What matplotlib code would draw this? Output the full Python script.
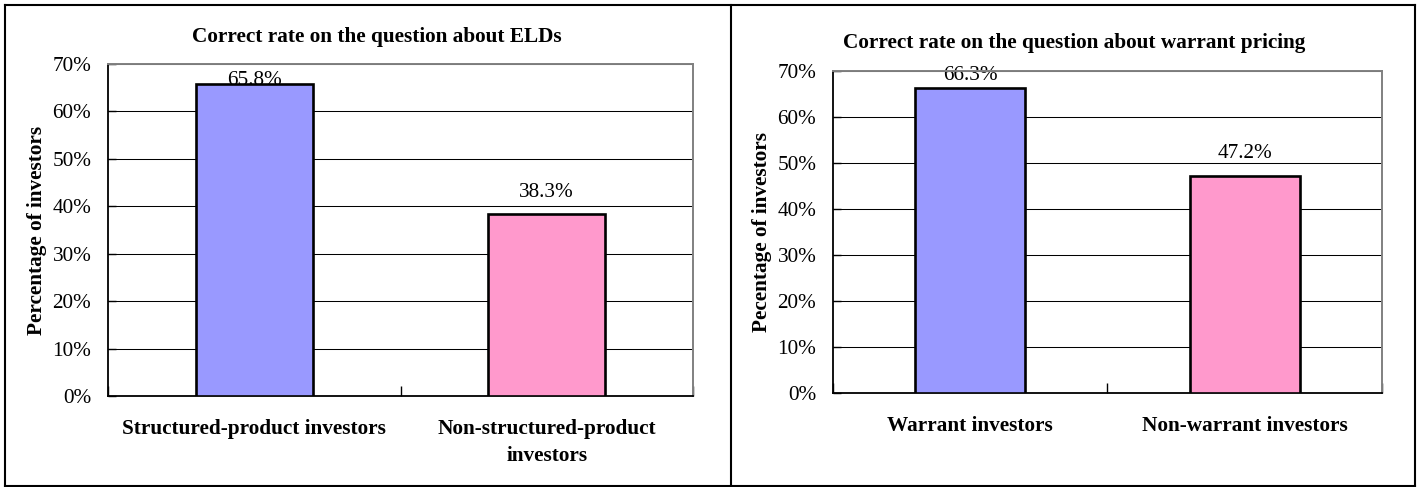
import matplotlib
matplotlib.use("Agg")
import matplotlib.pyplot as plt
from matplotlib.lines import Line2D
from matplotlib.ticker import FuncFormatter, FixedLocator

# ---- data ----
left_title = "Correct rate on the question about ELDs"
left_categories = ["Structured-product investors", "Non-structured-product\ninvestors"]
left_values = [65.8, 38.3]
left_ylabel = "Percentage of investors"

right_title = "Correct rate on the question about warrant pricing"
right_categories = ["Warrant investors", "Non-warrant investors"]
right_values = [66.3, 47.2]
right_ylabel = "Pecentage of investors"

bar_colors = ["#9999FF", "#FF99CC"]
y_ticks = [0, 10, 20, 30, 40, 50, 60, 70]

# ---- layout (pixels) ----
W, H, DPI = 1423, 487, 100
FONT = "Liberation Serif"
FS = 15.3

fig = plt.figure(figsize=(W / DPI, H / DPI), dpi=DPI)
fig.patch.set_facecolor("white")


def fx(px):
    return px / W


def fy(py):
    return 1 - py / H


def panel(x0, x1, top, bot, title, title_xy, cats, vals, ylabel, ylabel_x, cap_px):
    ax = fig.add_axes([fx(x0), fy(bot), fx(x1 - x0), (bot - top) / H])
    xs = list(range(len(vals)))
    ax.bar(xs, vals, width=0.4, color=bar_colors, edgecolor="black",
           linewidth=1.9, zorder=3)
    ax.set_xlim(-0.5, len(vals) - 0.5)
    ax.set_ylim(y_ticks[0], y_ticks[-1])
    ax.yaxis.set_major_locator(FixedLocator(y_ticks))
    ax.yaxis.set_major_formatter(FuncFormatter(lambda v, p: f"{v:.0f}%"))
    ax.grid(axis="y", color="black", linewidth=0.75, zorder=1)
    ax.set_axisbelow(True)

    # category ticks between bars, labels centred on bars
    ax.xaxis.set_major_locator(FixedLocator([i - 0.5 for i in range(len(vals) + 1)]))
    ax.xaxis.set_major_formatter(FuncFormatter(lambda v, p: ""))
    ax.xaxis.set_minor_locator(FixedLocator(xs))
    ax.set_xticklabels(cats, minor=True, fontfamily=FONT, fontsize=FS,
                       fontweight="bold", multialignment="center",
                       linespacing=1.45)
    ax.tick_params(axis="x", which="major", direction="in", length=7,
                   width=1.0, color="black")
    ax.tick_params(axis="x", which="minor", length=0, pad=16.5)
    ax.tick_params(axis="y", direction="in", length=6, width=1.0,
                   color="black", pad=12)
    for lab in ax.get_yticklabels():
        lab.set_fontfamily(FONT)
        lab.set_fontsize(FS)

    for side in ("top", "right"):
        ax.spines[side].set_color("#808080")
        ax.spines[side].set_linewidth(1.4)
    for side in ("left", "bottom"):
        ax.spines[side].set_color("black")
        ax.spines[side].set_linewidth(1.3)

    # value labels above bars, kept inside the chart near the top
    ppu = (bot - top) / (y_ticks[-1] - y_ticks[0])
    gap_px = 17.5
    for x, v in zip(xs, vals):
        base_px = min(v * ppu + gap_px, cap_px)
        ax.text(x, base_px / ppu, f"{v:.1f}%", ha="center", va="baseline",
                fontfamily=FONT, fontsize=FS, zorder=2)

    fig.text(fx(title_xy[0]), fy(title_xy[1]), title, ha="center",
             va="baseline", fontfamily=FONT, fontsize=FS, fontweight="bold")
    fig.text(fx(ylabel_x), fy((top + bot) / 2), ylabel, rotation=90,
             ha="center", va="center", fontfamily=FONT, fontsize=FS,
             fontweight="bold")
    return ax


panel(108, 693, 64, 396, left_title, (377, 41.7), left_categories,
      left_values, left_ylabel, 37.5, 311)
panel(833, 1382, 71, 393, right_title, (1074, 48.3), right_categories,
      right_values, right_ylabel, 762.5, 313)

# chart frames
lw = 1.5
for xa, ya, xb, yb in [(5, 5, 1415, 5), (5, 5, 5, 486), (731, 5, 731, 486),
                       (1415, 5, 1415, 486), (5, 486, 1415, 486)]:
    fig.add_artist(Line2D([fx(xa), fx(xb)], [fy(ya), fy(yb)], color="black",
                          linewidth=lw, solid_capstyle="projecting"))

fig.savefig("out.png", dpi=DPI, facecolor="white")
